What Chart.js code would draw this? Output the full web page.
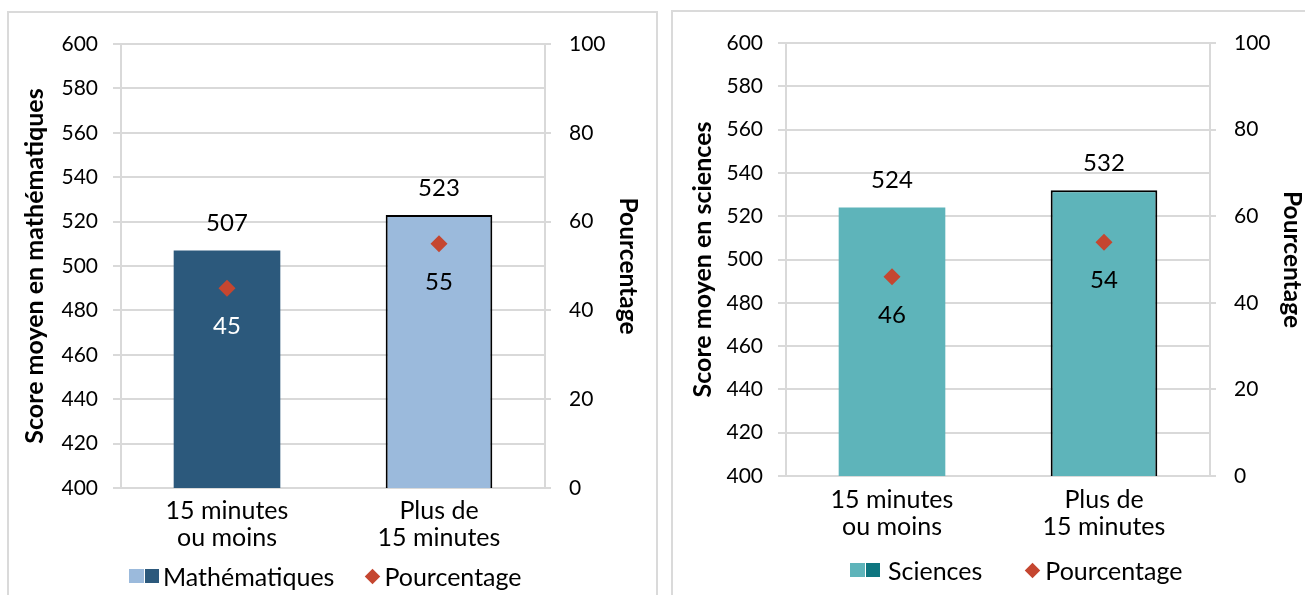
<!DOCTYPE html>
<html lang="fr">
<head>
<meta charset="utf-8">
<script src="https://cdn.jsdelivr.net/npm/chart.js@4.4.1/dist/chart.umd.min.js"></script>
<style>
  html, body { margin: 0; padding: 0; width: 1305px; height: 595px; overflow: hidden; background: #fff; }
  .panel { position: absolute; border: 2px solid #dadada; box-sizing: border-box; }
  #panelMath { left: 7px; top: 11px; width: 651px; height: 640px; }
  #panelSci { left: 671px; top: 10px; width: 700px; height: 640px; }
  .chartBox { position: absolute; top: 0; height: 595px; }
  #boxMath { left: 0; width: 660px; }
  #boxSci { left: 660px; width: 645px; }
  .legend { position: absolute; height: 30px; display: flex; align-items: center;
            font: 25px Lato, sans-serif; color: #000; white-space: nowrap; }
  .legend .sq { display: inline-block; width: 15px; height: 14px; }
  .legend .sq + .sq { margin-left: 1px; width: 14px; }
  .legend .dia { display: inline-block; width: 11px; height: 11px; transform: rotate(45deg); margin: 0 2.5px; }
  #legendMath { left: 129px; top: 561px; }
  #legendSci { left: 850px; top: 555px; }
</style>
</head>
<body>
<div class="panel" id="panelMath"></div>
<div class="panel" id="panelSci"></div>
<div class="chartBox" id="boxMath"><canvas id="mathChart" width="660" height="595"></canvas></div>
<div class="chartBox" id="boxSci"><canvas id="sciChart" width="645" height="595"></canvas></div>
<div class="legend" id="legendMath"></div>
<div class="legend" id="legendSci"></div>

<script>
// Data
const categories = [['15 minutes', 'ou moins'], ['Plus de', '15 minutes']];
const mathScores = [507, 523];
const mathPercents = [45, 55];
const sciScores = [524, 532];
const sciPercents = [46, 54];
const scoreRange = [400, 600, 20];   // min, max, step
const percentRange = [0, 100, 20];

// Colours
const mathColors = ['#2c597c', '#9bbadc'];
const sciColors = ['#5eb4ba', '#5eb4ba'];
const sciLegendColors = ['#5eb4ba', '#0e7680'];
const diamondColor = '#c54630';
const gridColor = '#d9d9d9';

Chart.defaults.font.family = 'Lato, sans-serif';
Chart.defaults.color = '#000';

/**
 * Draw value labels above bars and below diamonds
 */
const valueLabels = {
    id: 'valueLabels',
    afterDatasetsDraw(chart, args, opts) {
        const ctx = chart.ctx;
        ctx.save();
        ctx.font = '24px Lato, sans-serif';
        ctx.textAlign = 'center';
        ctx.textBaseline = 'middle';
        chart.data.datasets.forEach((ds, i) => {
            const meta = chart.getDatasetMeta(i);
            meta.data.forEach((el, j) => {
                if (ds.type === 'bar') {
                    ctx.fillStyle = '#000';
                    ctx.fillText(ds.data[j], el.x, el.y - 27);
                } else {
                    ctx.fillStyle = opts.pctColors[j];
                    ctx.fillText(ds.data[j], el.x, el.y + 38);
                }
            });
        });
        ctx.restore();
    }
};

function makeChart(canvasId, cfg) {
    const ctx = document.getElementById(canvasId).getContext('2d');
    return new Chart(ctx, {
        data: {
            labels: categories,
            datasets: [{
                type: 'line',
                label: 'Pourcentage',
                data: cfg.percents,
                yAxisID: 'y1',
                showLine: false,
                pointStyle: 'rectRot',
                pointRadius: 8.5,
                pointBackgroundColor: diamondColor,
                pointBorderWidth: 0,
                order: 0
            }, {
                type: 'bar',
                label: cfg.label,
                data: cfg.scores,
                yAxisID: 'y',
                backgroundColor: cfg.colors,
                borderColor: '#000',
                borderWidth: [0, 2],
                borderSkipped: false,
                categoryPercentage: 1,
                barPercentage: 0.503,
                order: 1
            }]
        },
        options: {
            responsive: false,
            animation: false,
            layout: { padding: { top: cfg.top, left: 0, right: 0, bottom: 0 } },
            plugins: {
                legend: { display: false },
                tooltip: { enabled: false },
                valueLabels: { pctColors: cfg.pctColors }
            },
            scales: {
                x: {
                    grid: { display: false, drawTicks: false },
                    border: { display: true, color: gridColor, width: 2 },
                    ticks: {
                        font: { size: 25, lineHeight: 1.06 },
                        padding: cfg.xPad,
                        maxRotation: 0,
                        autoSkip: false
                    },
                    afterFit: s => { s.height = cfg.xHeight; }
                },
                y: {
                    position: 'left',
                    min: scoreRange[0],
                    max: scoreRange[1],
                    ticks: { stepSize: scoreRange[2], font: { size: 21 }, padding: 15 },
                    grid: { color: gridColor, lineWidth: 2, tickLength: 8 },
                    border: { display: true, color: gridColor, width: 2 },
                    title: {
                        display: true,
                        text: cfg.yTitle,
                        font: { size: 25, weight: 'bold' },
                        padding: { top: cfg.yTitlePad, bottom: 0 }
                    },
                    afterFit: s => { s.width = cfg.leftWidth; }
                },
                y1: {
                    position: 'right',
                    min: percentRange[0],
                    max: percentRange[1],
                    ticks: { stepSize: percentRange[2], font: { size: 21 }, padding: 18 },
                    grid: { drawOnChartArea: false, color: gridColor, lineWidth: 2, tickLength: 6 },
                    border: { display: true, color: gridColor, width: 2 },
                    title: {
                        display: true,
                        text: 'Pourcentage',
                        font: { size: 24.5, weight: 'bold' },
                        padding: { top: cfg.y1TitlePad, bottom: 0 }
                    },
                    afterFit: s => { s.width = cfg.rightWidth; }
                }
            }
        },
        plugins: [valueLabels]
    });
}

/**
 * HTML legend built from the chart datasets
 */
function buildLegend(chart, elId, iconColors, gaps) {
    const box = document.getElementById(elId);
    const barDs = chart.data.datasets[1];
    const pctDs = chart.data.datasets[0];
    box.innerHTML = `
        <span class="sq" style="background:${iconColors[0]}"></span><span class="sq" style="background:${iconColors[1]}"></span>
        <span style="margin-left:${gaps[0]}px">${barDs.label}</span>
        <span class="dia" style="background:${diamondColor};margin-left:${gaps[1] + 2.5}px"></span>
        <span style="margin-left:${gaps[2]}px">${pctDs.label}</span>
    `;
}

const mathChart = makeChart('mathChart', {
    label: 'Mathématiques',
    scores: mathScores,
    percents: mathPercents,
    colors: mathColors,
    pctColors: ['#fff', '#000'],
    top: 44,
    xHeight: 107,
    xPad: 10,
    leftWidth: 121,
    rightWidth: 115,
    yTitle: 'Score moyen en mathématiques',
    yTitlePad: 20,
    y1TitlePad: 17
});

const sciChart = makeChart('sciChart', {
    label: 'Sciences',
    scores: sciScores,
    percents: sciPercents,
    colors: sciColors,
    pctColors: ['#000', '#000'],
    top: 43,
    xHeight: 119,
    xPad: 11,
    leftWidth: 126,
    rightWidth: 95,
    yTitle: 'Score moyen en sciences',
    yTitlePad: 28,
    y1TitlePad: -2
});

buildLegend(mathChart, 'legendMath', [mathColors[1], mathColors[0]], [4, 30, 4]);
buildLegend(sciChart, 'legendSci', sciLegendColors, [8, 42, 5]);
</script>
</body>
</html>
